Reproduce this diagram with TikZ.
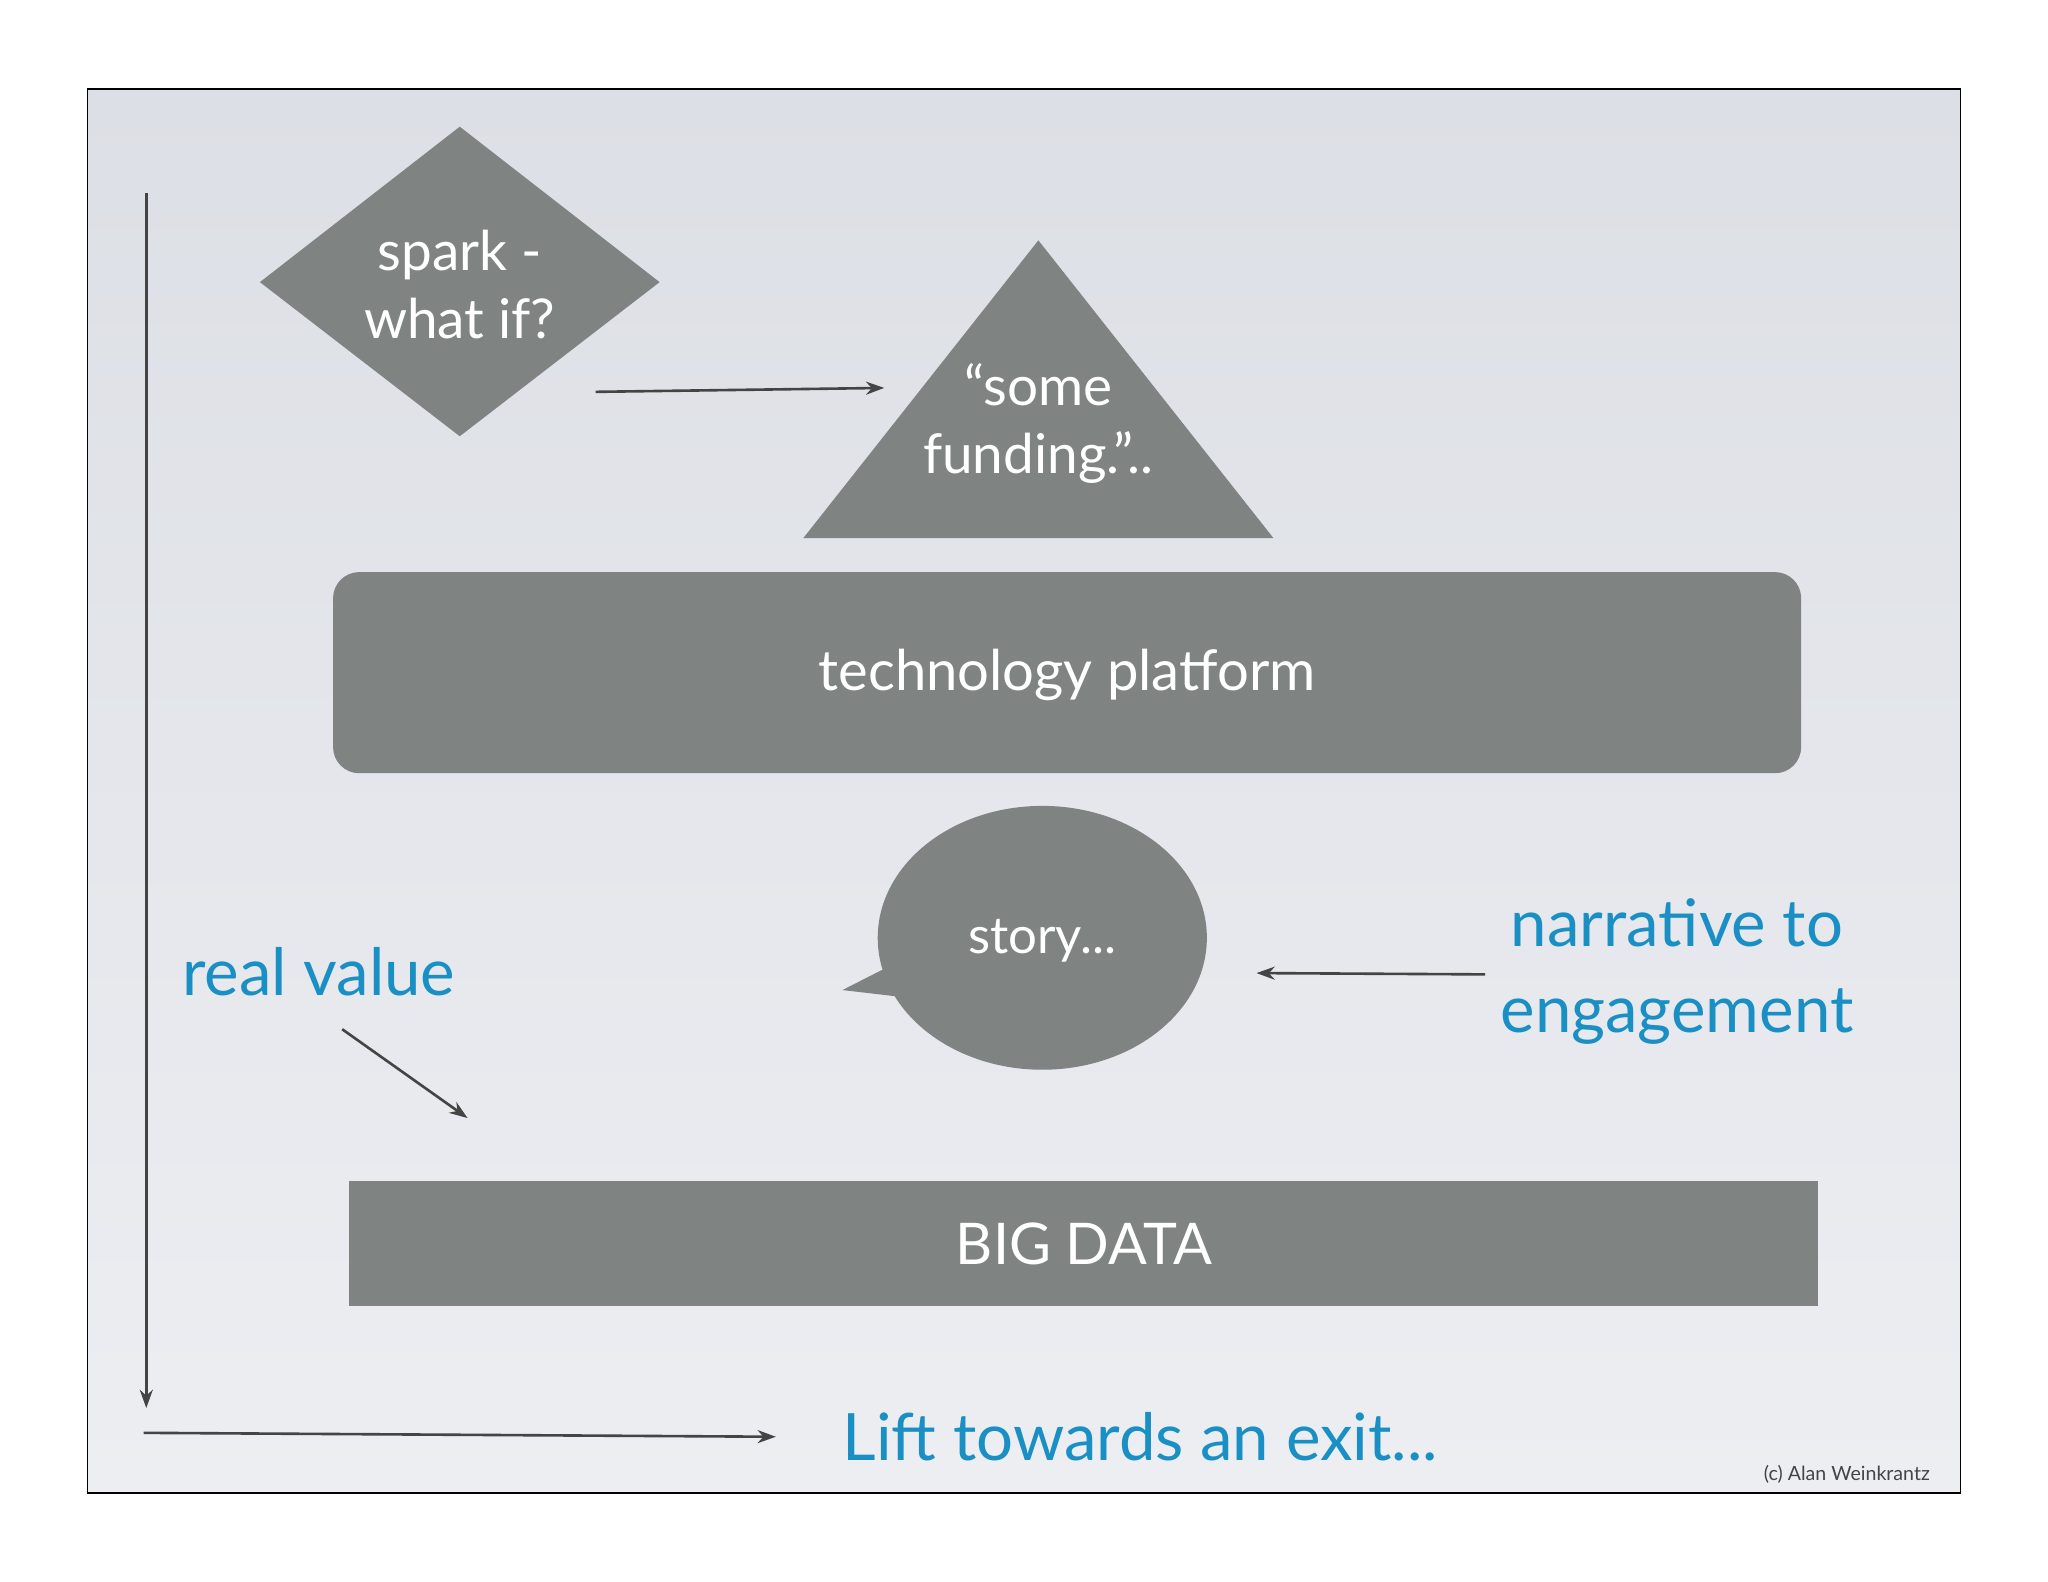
\documentclass[tikz,border=0pt]{standalone}
\usepackage{fontspec}
\setmainfont{Lato}
\usetikzlibrary{shapes.geometric,arrows.meta}
\definecolor{shp}{HTML}{7F8482}
\definecolor{blu}{HTML}{1A8FC4}
\definecolor{bgtop}{HTML}{DCDFE5}
\definecolor{bgbot}{HTML}{EDEEF2}
\definecolor{arr}{HTML}{444444}
\begin{document}
\begin{tikzpicture}[x=0.5pt,y=-0.5pt,
  wt/.style={text=white,align=center,font=\fontsize{21}{26}\selectfont},
  bt/.style={text=blu,align=center,font=\fontsize{25}{33}\selectfont},
  ar/.style={draw=arr,line width=1pt,-{Stealth[length=7pt,width=5pt]}}]
\useasboundingbox (0,0) rectangle (1568,1211);
\fill[white] (0,0) rectangle (1568,1211);
\shade[top color=bgtop,bottom color=bgbot,draw=black,line width=0.6pt] (67,68) rectangle (1501,1143);
% shapes
\fill[shp] (199,216) -- (352,97) -- (505,216) -- (352,334) -- cycle;
\node[wt] (spark) at (352,218) {spark -\\what if?};
\fill[shp] (795,184) -- (975,412) -- (615,412) -- cycle;
\node[wt] (fund) at (795,324) {“some\\funding.”..};
\fill[shp,rounded corners=10pt] (255,438) rectangle (1379,592);
\node[wt,font=\fontsize{21.5}{28}\selectfont] (tech) at (817,517) {technology platform};
\fill[shp] (798,718) ellipse [x radius=126, y radius=101];
\fill[shp] (700,730) -- (645,758) -- (705,765) -- cycle;
\node[wt,font=\fontsize{19.5}{24}\selectfont] (story) at (798,720) {story...};
\fill[shp] (267,904) rectangle (1392,1000);
\node[wt,font=\fontsize{22}{28}\selectfont] (big) at (830,952) {BIG DATA};
% blue texts
\node[bt] (real) at (244,744) {real value};
\node[bt] (narr) at (1284,744) {narrative to\\engagement};
\node[bt,font=\fontsize{25}{32}\selectfont] (lift) at (873,1100) {Lift towards an exit...};
\node[text=arr,font=\fontsize{7.5}{10}\selectfont] (copy) at (1414,1129) {(c) Alan Weinkrantz};
% arrows
\coordinate (a1) at (456,300); \coordinate (a2) at (677,297);
\coordinate (b1) at (1137,746); \coordinate (b2) at (962,745);
\coordinate (c1) at (262,788); \coordinate (c2) at (358,856);
\coordinate (d1) at (112,148); \coordinate (d2) at (112,1078);
\coordinate (e1) at (110,1097); \coordinate (e2) at (594,1100);
\draw[ar] (a1) -- (a2);
\draw[ar] (b1) -- (b2);
\draw[ar] (c1) -- (c2);
\draw[ar] (d1) -- (d2);
\draw[ar] (e1) -- (e2);
\end{tikzpicture}
\end{document}
